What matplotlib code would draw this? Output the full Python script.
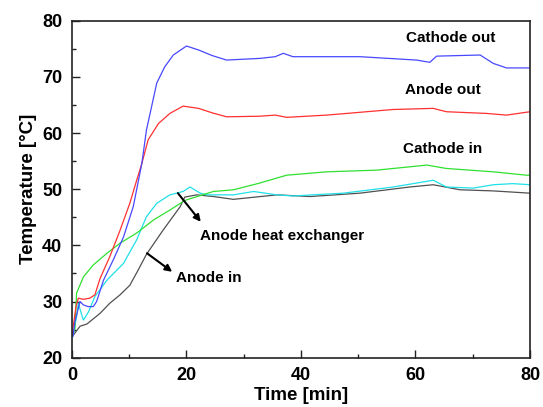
import matplotlib
matplotlib.use("Agg")
import matplotlib.pyplot as plt
from matplotlib.ticker import MultipleLocator

plt.rcParams['font.family'] = ['Liberation Sans', 'DejaVu Sans']
plt.rcParams['font.weight'] = 'bold'

# Cathode out (blue)
t_cath_out = [0, 0.2, 0.5, 1.4, 2.0, 2.8, 3.7, 4.3, 5.5, 7.2, 9.0, 10.7, 12.2, 13.0, 13.9,
              14.8, 16.2, 17.7, 20.0, 22.1, 24.5, 27.0, 32.8, 35.5, 36.9, 38.6, 50.3, 60.2,
              62.5, 63.7, 71.3, 73.6, 75.9, 80]
T_cath_out = [23.7, 23.9, 26.4, 30.0, 29.4, 29.1, 29.1, 30.0, 33.8, 37.4, 41.5, 46.9, 54.6,
              60.5, 64.7, 68.9, 71.8, 73.9, 75.5, 74.8, 73.8, 73.0, 73.3, 73.6, 74.2, 73.6,
              73.6, 73.0, 72.6, 73.7, 73.9, 72.4, 71.6, 71.6]

# Anode out (red)
t_an_out = [0, 0.7, 1.1, 2.0, 3.1, 4.0, 4.9, 6.6, 8.4, 10.1, 11.3, 12.2, 13.3, 15.1, 17.1,
            19.4, 22.1, 24.5, 27.0, 32.8, 35.5, 37.5, 44.5, 56.1, 63.1, 65.4, 72.4, 75.9, 80]
T_an_out = [24.0, 29.1, 30.6, 30.4, 30.6, 31.2, 34.1, 38.0, 42.7, 47.5, 51.6, 54.6, 58.8,
            61.7, 63.5, 64.8, 64.4, 63.6, 62.9, 63.0, 63.2, 62.8, 63.2, 64.2, 64.4, 63.8,
            63.5, 63.2, 63.8]

# Cathode in (green)
t_cath_in = [0, 0.5, 0.8, 2.0, 3.7, 6.1, 8.4, 11.3, 14.2, 17.1, 19.4, 20.0, 24.7, 28.2,
             32.8, 35.8, 37.5, 44.5, 53.2, 62.0, 65.4, 73.6, 79.4, 80]
T_cath_in = [24.0, 25.0, 31.5, 34.4, 36.5, 38.6, 40.4, 42.2, 44.5, 46.3, 47.8, 48.1, 49.6,
             49.9, 51.1, 52.0, 52.5, 53.1, 53.4, 54.3, 53.7, 53.1, 52.5, 52.5]

# Anode heat exchanger (cyan)
t_an_hx = [0, 0.2, 0.8, 1.1, 1.7, 2.0, 2.9, 4.0, 6.1, 9.0, 11.3, 13.0, 14.8, 17.1, 19.4,
           20.6, 22.4, 23.5, 28.2, 31.7, 35.8, 38.6, 47.4, 56.1, 63.1, 65.4, 70.1, 73.6,
           77.0, 80]
T_an_hx = [23.5, 24.0, 27.3, 29.7, 27.6, 26.7, 28.2, 30.9, 33.8, 36.8, 41.0, 45.1, 47.5,
           49.0, 49.6, 50.4, 49.3, 49.0, 49.0, 49.6, 49.0, 48.8, 49.3, 50.4, 51.6, 50.4,
           50.2, 50.8, 51.0, 50.8]

# Anode in (gray)
t_an_in = [0, 1.4, 2.6, 4.9, 6.6, 8.4, 10.1, 11.5, 13.0, 15.9, 18.9, 19.7, 21.8, 24.7,
           28.2, 35.8, 41.6, 50.3, 59.0, 63.1, 67.8, 73.6, 80]
T_an_in = [23.7, 25.6, 26.0, 27.9, 29.7, 31.2, 32.9, 35.5, 38.4, 42.7, 46.9, 48.6, 49.0,
           48.7, 48.2, 49.0, 48.7, 49.3, 50.4, 50.8, 49.9, 49.7, 49.3]

fig = plt.figure(figsize=(5.43, 4.07), dpi=100)
ax = fig.add_axes([0.1326, 0.1211, 0.8434, 0.8279])

lw = 0.9
ax.plot(t_an_in, T_an_in, color='#505050', lw=lw)
ax.plot(t_an_hx, T_an_hx, color='#20e0e8', lw=lw)
ax.plot(t_cath_in, T_cath_in, color='#30e030', lw=lw)
ax.plot(t_an_out, T_an_out, color='#ff3030', lw=lw)
ax.plot(t_cath_out, T_cath_out, color='#4848ff', lw=lw)

ax.set_xlim(0, 80)
ax.set_ylim(20, 80)
ax.xaxis.set_major_locator(MultipleLocator(20))
ax.xaxis.set_minor_locator(MultipleLocator(10))
ax.yaxis.set_major_locator(MultipleLocator(10))
ax.yaxis.set_minor_locator(MultipleLocator(5))
ax.tick_params(which='both', direction='in', top=False, right=False,
               labelsize=13, width=1.0, color='#222222')
ax.tick_params(which='major', length=6, pad=7)
ax.tick_params(which='minor', length=3)
for lab in ax.get_xticklabels() + ax.get_yticklabels():
    lab.set_fontweight('bold')
for sp in ax.spines.values():
    sp.set_linewidth(1.2)
    sp.set_color('#222222')

ax.set_xlabel('Time [min]', fontsize=13.5, fontweight='bold', labelpad=2)
ax.set_ylabel('Temperature [°C]', fontsize=13.5, fontweight='bold', labelpad=4)

# curve labels
ax.text(58.3, 76.9, 'Cathode out', fontsize=11, fontweight='bold', va='center')
ax.text(58.2, 67.7, 'Anode out', fontsize=11, fontweight='bold', va='center')
ax.text(57.8, 57.2, 'Cathode in', fontsize=11, fontweight='bold', va='center')
ax.text(22.4, 41.6, 'Anode heat exchanger', fontsize=11, fontweight='bold', va='center')
ax.text(18.2, 34.2, 'Anode in', fontsize=11, fontweight='bold', va='center')

arrow = dict(arrowstyle='-|>', color='black', lw=1.5, mutation_scale=10,
             shrinkA=0, shrinkB=0)
ax.annotate('', xy=(22.5, 44.2), xytext=(18.5, 49.3), arrowprops=arrow)
ax.annotate('', xy=(17.5, 35.3), xytext=(13.1, 38.6), arrowprops=arrow)

fig.savefig('out.png', dpi=100)
